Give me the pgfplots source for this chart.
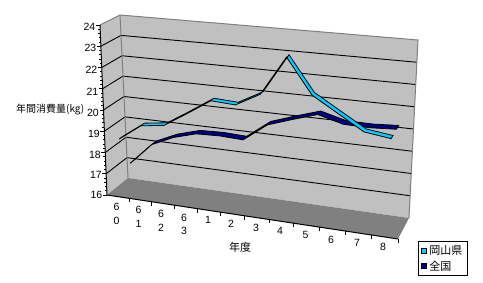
\documentclass[border=0pt]{standalone}
\usepackage{pgfplots}
\pgfplotsset{compat=1.18}
\usepackage{pgfplotstable}
\usepgfplotslibrary{fillbetween}
\usepackage{fontspec}
\setmainfont{Liberation Sans}
\newfontfamily\cjk{Noto Sans CJK JP}
\definecolor{wallc}{HTML}{C0C0C0}
\definecolor{floorc}{HTML}{808080}
\definecolor{edgec}{HTML}{808080}
\definecolor{cyanc}{HTML}{00CCFF}
\definecolor{navyc}{HTML}{000080}

% category index (0 = S60 ... 11 = H8), annual consumption (kg)
\pgfplotstableread{
i v
0 18.59
1 19.35
2 19.50
3 20.18
4 20.90
5 20.84
6 21.45
7 23.25
8 21.67
9 20.98
10 20.30
11 20.15
}\okayama
\pgfplotstableread{
i v
0 17.08
1 18.11
2 18.59
3 18.90
4 18.94
5 18.89
6 19.72
7 20.10
8 20.46
9 20.15
10 20.13
11 20.20
}\zenkoku

\begin{document}
\begin{tikzpicture}[declare function={
  uu(\qt)=(\qt/12)*0.897/(1-0.103*\qt/12);
  vv(\qz)=(\qz-16)/8;
  lrp(\qa,\qb,\qs)=\qa+(\qb-\qa)*\qs;
  PX(\qt,\qz,\qd)=lrp(lrp(lrp(107,398,uu(\qt)),lrp(100,408,uu(\qt)),vv(\qz)),lrp(lrp(128,409,uu(\qt)),lrp(120,418,uu(\qt)),vv(\qz)),\qd);
  PY(\qt,\qz,\qd)=lrp(lrp(lrp(195,239,uu(\qt)),lrp(25,54,uu(\qt)),vv(\qz)),lrp(lrp(178,218,uu(\qt)),lrp(15,40,uu(\qt)),vv(\qz)),\qd);
}]
\begin{axis}[
  width=483pt, height=282pt, scale only axis,
  xmin=0, xmax=483, ymin=0, ymax=282, y dir=reverse,
  axis lines=none, clip=false,
  fill between/on layer=main,
  legend style={at={(axis cs:418,241)}, anchor=north west, draw=black, line width=0.9pt,
    fill=white, inner xsep=3pt, inner ysep=2pt, row sep=1pt,
    font=\cjk\fontsize{11}{13}\selectfont},
  legend cell align=left,
  legend image code/.code={\draw[#1, line width=0.8pt] (0pt,-2.5pt) rectangle (5pt,2.5pt);},
  every axis plot/.append style={forget plot},
]
\coordinate (bbA) at (axis cs:0,282);
\coordinate (bbB) at (axis cs:483,0);
% walls
\addplot[fill=wallc, draw=none] table[row sep=\\, x expr={PX(\thisrow{t},\thisrow{z},\thisrow{d})}, y expr={PY(\thisrow{t},\thisrow{z},\thisrow{d})}]
 {t z d\\ 0 16 1\\ 0 24 1\\ 12 24 1\\ 12 16 1\\ 0 16 1\\};
\addplot[fill=wallc, draw=none] table[row sep=\\, x expr={PX(\thisrow{t},\thisrow{z},\thisrow{d})}, y expr={PY(\thisrow{t},\thisrow{z},\thisrow{d})}]
 {t z d\\ 0 16 0\\ 0 24 0\\ 0 24 1\\ 0 16 1\\ 0 16 0\\};
\addplot[fill=floorc, draw=none] table[row sep=\\, x expr={PX(\thisrow{t},\thisrow{z},\thisrow{d})}, y expr={PY(\thisrow{t},\thisrow{z},\thisrow{d})}]
 {t z d\\ 0 16 0\\ 12 16 0\\ 12 16 1\\ 0 16 1\\ 0 16 0\\};
% gridlines
\pgfplotsinvokeforeach{17,...,23}{
\addplot[black, line width=0.9pt] table[row sep=\\, x expr={PX(\thisrow{t},\thisrow{z},\thisrow{d})}, y expr={PY(\thisrow{t},\thisrow{z},\thisrow{d})}]
 {t z d\\ 0 #1 0\\ 0 #1 1\\ 12 #1 1\\};
}
% wall edges
\addplot[edgec, line width=1pt] table[row sep=\\, x expr={PX(\thisrow{t},\thisrow{z},\thisrow{d})}, y expr={PY(\thisrow{t},\thisrow{z},\thisrow{d})}]
 {t z d\\ 0 24 0\\ 0 24 1\\ 12 24 1\\ 12 16 1\\};
\addplot[edgec, line width=1pt] table[row sep=\\, x expr={PX(\thisrow{t},\thisrow{z},\thisrow{d})}, y expr={PY(\thisrow{t},\thisrow{z},\thisrow{d})}]
 {t z d\\ 0 24 1\\ 0 16 1\\};
% axes
\addplot[black, line width=1pt] table[row sep=\\, x expr={PX(\thisrow{t},\thisrow{z},\thisrow{d})}, y expr={PY(\thisrow{t},\thisrow{z},\thisrow{d})}]
 {t z d\\ 0 24 0\\ 0 16 0\\ 12 16 0\\};
% y ticks
\addplot[black, line width=0.8pt, quiver={u=-4,v=0}] table[row sep=\\, x expr={PX(0,\thisrow{z},0)}, y expr={PY(0,\thisrow{z},0)}]
 {z\\ 16\\ 17\\ 18\\ 19\\ 20\\ 21\\ 22\\ 23\\ 24\\};
\addplot[black, line width=0.8pt, quiver={u=-2,v=0}] table[row sep=\\, x expr={PX(0,\thisrow{z},0)}, y expr={PY(0,\thisrow{z},0)}]
 {z\\ 16.2\\ 16.4\\ 16.6\\ 16.8\\ 17.2\\ 17.4\\ 17.6\\ 17.8\\ 18.2\\ 18.4\\ 18.6\\ 18.8\\ 19.2\\ 19.4\\ 19.6\\ 19.8\\ 20.2\\ 20.4\\ 20.6\\ 20.8\\ 21.2\\ 21.4\\ 21.6\\ 21.8\\ 22.2\\ 22.4\\ 22.6\\ 22.8\\ 23.2\\ 23.4\\ 23.6\\ 23.8\\};
% x ticks
\addplot[black, line width=0.8pt, quiver={u=0,v=4}] table[row sep=\\, x expr={PX(\thisrow{t},16,0)}, y expr={PY(\thisrow{t},16,0)}]
 {t\\ 1\\ 2\\ 3\\ 4\\ 5\\ 6\\ 7\\ 8\\ 9\\ 10\\ 11\\ 12\\};
% ribbons: 全国 (back), 岡山県 (front)
\addplot[draw=none, name path=na] table[x expr={PX(\thisrow{i}+0.5,\thisrow{v},0.64)}, y expr={PY(\thisrow{i}+0.5,\thisrow{v},0.64)}] {\zenkoku};
\addplot[draw=none, name path=nb] table[x expr={PX(\thisrow{i}+0.5,\thisrow{v},0.86)}, y expr={PY(\thisrow{i}+0.5,\thisrow{v},0.86)}] {\zenkoku};
\addplot[fill=navyc, draw=black, line width=0.8pt] fill between[of=na and nb];
\addplot[draw=none, name path=oa] table[x expr={PX(\thisrow{i}+0.5,\thisrow{v},0.16)}, y expr={PY(\thisrow{i}+0.5,\thisrow{v},0.16)}] {\okayama};
\addplot[draw=none, name path=ob] table[x expr={PX(\thisrow{i}+0.5,\thisrow{v},0.34)}, y expr={PY(\thisrow{i}+0.5,\thisrow{v},0.34)}] {\okayama};
\addplot[fill=cyanc, draw=black, line width=0.8pt] fill between[of=oa and ob];
% legend
\addlegendimage{fill=cyanc, draw=black}
\addlegendentry{岡山県}
\addlegendimage{fill=navyc, draw=black}
\addlegendentry{全国}
% tick labels
\begin{scope}[font=\fontsize{10.5}{13}\selectfont, inner sep=0pt]
\node[anchor=east] at (axis cs:95.5,27) {24};
\node[anchor=east] at (axis cs:96.5,48) {23};
\node[anchor=east] at (axis cs:97.5,70) {22};
\node[anchor=east] at (axis cs:98.5,92) {21};
\node[anchor=east] at (axis cs:99,113) {20};
\node[anchor=east] at (axis cs:100,134) {19};
\node[anchor=east] at (axis cs:101,155) {18};
\node[anchor=east] at (axis cs:102,175) {17};
\node[anchor=east] at (axis cs:102.5,195) {16};
\node at (axis cs:116.5,207) {6}; \node at (axis cs:116.5,221) {0};
\node at (axis cs:138.5,210) {6}; \node at (axis cs:138.5,224) {1};
\node at (axis cs:161,214) {6}; \node at (axis cs:161,228) {2};
\node at (axis cs:184,218) {6}; \node at (axis cs:184,231) {3};
\node at (axis cs:208,220) {1};
\node at (axis cs:231,224) {2};
\node at (axis cs:256,228) {3};
\node at (axis cs:280,231) {4};
\node at (axis cs:305.5,235) {5};
\node at (axis cs:331,240) {6};
\node at (axis cs:357,243) {7};
\node at (axis cs:383,247) {8};
\end{scope}
\node[font=\cjk\fontsize{10}{12}\selectfont, anchor=west, inner sep=0pt] at (axis cs:16,110) {年間消費量(kg)};
\node[font=\cjk\fontsize{11}{13}\selectfont, inner sep=0pt] at (axis cs:240,247) {年度};
\end{axis}
\pgfresetboundingbox
\path[use as bounding box] (bbA) rectangle (bbB);
\end{tikzpicture}
\end{document}
